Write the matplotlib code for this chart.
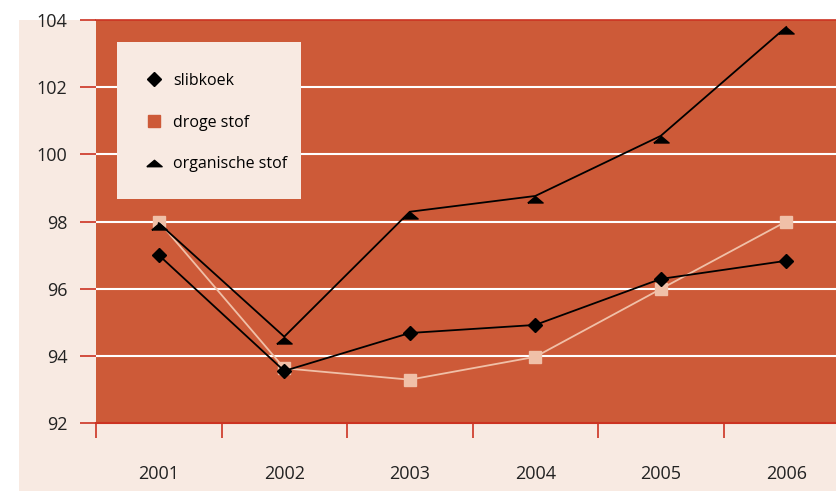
import matplotlib.pyplot as plt
from matplotlib.patches import Rectangle
from matplotlib.lines import Line2D

# data
years = ['2001', '2002', '2003', '2004', '2005', '2006']
slibkoek = [97.0, 93.55, 94.68, 94.92, 96.29, 96.83]
droge_stof = [98.0, 93.63, 93.29, 93.97, 95.99, 98.0]
organische_stof = [97.95, 94.57, 98.29, 98.76, 100.55, 103.79]

plt.rcParams['font.family'] = ['Open Sans', 'DejaVu Sans']

beige = '#f8eae2'
fill = '#cd5a38'
red = '#cc3322'
pink = '#f0c0a8'

# flat triangle hanging below its point, like the original
tri = [(-1, -0.85), (1, -0.85), (0, 0), (-1, -0.85)]
tri_leg = [(-1, -0.42), (1, -0.42), (0, 0.42), (-1, -0.42)]

W, H = 837, 491
fig = plt.figure(figsize=(W / 100, H / 100), dpi=100)
fig.patch.set_facecolor('white')
fig.add_artist(Rectangle((19 / W, 0), 1, (H - 20) / H, transform=fig.transFigure,
                         facecolor=beige, edgecolor='none', zorder=0))

ax = fig.add_axes([96 / W, (H - 423) / H, (849 - 96) / W, (423 - 20) / H])
ax.set_facecolor(fill)

x = list(range(1, len(years) + 1))
ax.plot(x, slibkoek, color='black', lw=1.3, marker='D', ms=7.5, zorder=5)
ax.plot(x, droge_stof, color=pink, lw=1.3, marker='s', ms=8.5, zorder=4)
ax.plot(x, organische_stof, color='black', lw=1.3, marker=tri, ms=11, zorder=5)

ax.set_xlim(0.5, 6.5)
ax.set_ylim(92, 104)
ax.set_yticks(range(92, 105, 2))
ax.set_xticks(x)
ax.set_xticklabels(years)
ax.set_xticks([i + 0.5 for i in range(0, 6)], minor=True)

for y in range(94, 103, 2):
    ax.axhline(y, color='white', lw=1.5, zorder=1)

for s in ['left', 'right']:
    ax.spines[s].set_visible(False)
ax.spines['top'].set_color(red)
ax.spines['top'].set_linewidth(1.2)
ax.spines['bottom'].set_color(red)
ax.spines['bottom'].set_linewidth(1.5)

ax.tick_params(axis='y', length=11.5, width=1.2, color=red, pad=9,
               labelsize=13, labelcolor='#222222')
ax.tick_params(axis='x', which='major', length=0, pad=30,
               labelsize=13, labelcolor='#222222')
ax.tick_params(axis='x', which='minor', length=11, width=1.2, color=red)

# legend box
ax.add_patch(Rectangle((0.028, 0.556), 0.244, 0.389, transform=ax.transAxes,
                       facecolor=beige, edgecolor='none', zorder=6))
handles = [
    Line2D([], [], ls='none', marker='D', color='black', ms=7.5),
    Line2D([], [], ls='none', marker='s', color=fill, ms=8.5),
    Line2D([], [], ls='none', marker=tri_leg, color='black', ms=11),
]
leg = ax.legend(handles, ['slibkoek', 'droge stof', 'organische stof'],
                loc='upper left', bbox_to_anchor=(0.045, 0.905), frameon=False,
                fontsize=11.5, labelspacing=1.62, handletextpad=0.6,
                handlelength=1.2)
leg.set_zorder(7)

fig.savefig('out.png', dpi=100)
